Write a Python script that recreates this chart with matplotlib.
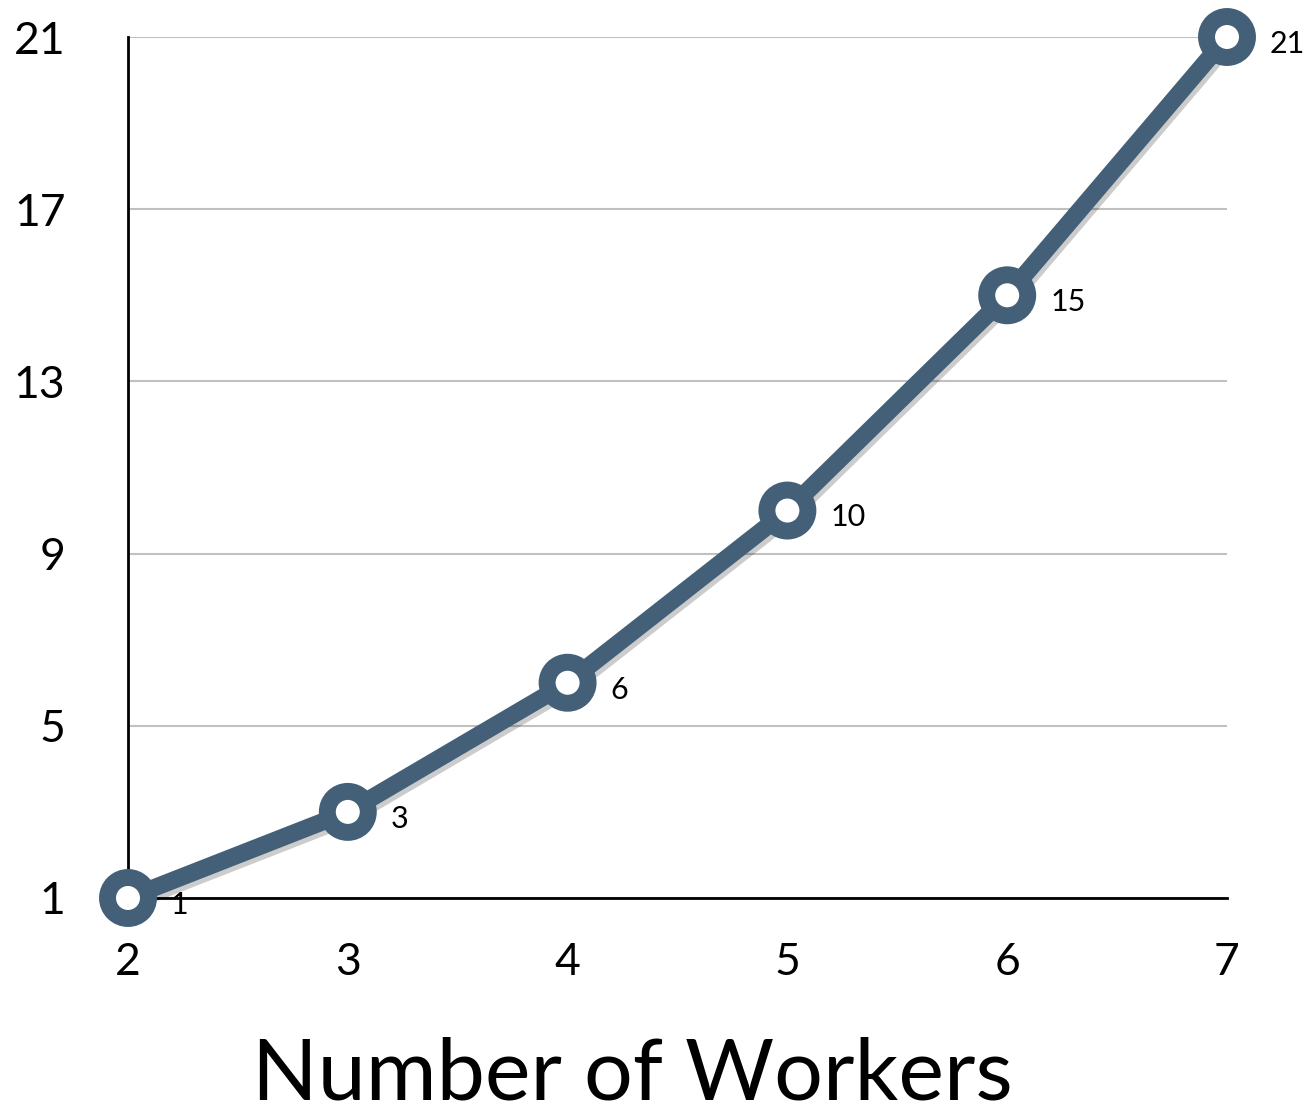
import numpy as np
import matplotlib
matplotlib.use('Agg')
import matplotlib.pyplot as plt
import matplotlib.patheffects as pe

# data
workers = [2, 3, 4, 5, 6, 7]
values = [1, 3, 6, 10, 15, 21]
y_ticks = [1, 5, 9, 13, 17, 21]
x_label = 'Number of Workers'

LINE = '#436078'
plt.rcParams['font.family'] = ['Lato', 'DejaVu Sans']

W, H = 1307, 1113
fig = plt.figure(figsize=(W / 100, H / 100), dpi=100)
ax = fig.add_axes([128 / W, 1 - 898 / H, (1227 - 128) / W, (898 - 37) / H])

line_shadow = [pe.SimpleLineShadow(offset=(2, -3), shadow_color='k', alpha=0.2), pe.Normal()]
mark_shadow = [pe.SimplePatchShadow(offset=(2, -3), shadow_rgbFace='k', alpha=0.2), pe.Normal()]
ax.plot(workers, values, '-', color=LINE, linewidth=12.5, solid_capstyle='round',
        zorder=3, path_effects=line_shadow, clip_on=False)
ax.plot(workers, values, 'o', color='white', markersize=29.5, markeredgewidth=12.2,
        markeredgecolor=LINE, zorder=4, path_effects=mark_shadow, clip_on=False)

for x, y in zip(workers, values):
    ax.annotate(str(y), (x, y), xytext=(31, -5), textcoords='offset points',
                ha='left', va='center', fontsize=22, zorder=5)

ax.set_xlim(2, 7)
ax.set_ylim(1, 21)
ax.set_xticks(workers)
ax.set_yticks(y_ticks)
ax.tick_params(axis='both', length=0, labelsize=32)
ax.tick_params(axis='y', pad=45)
ax.tick_params(axis='x', pad=32)
ax.grid(axis='y', color='#c0c0c0', linewidth=1.5)
ax.set_axisbelow(True)
for s in ['top', 'right']:
    ax.spines[s].set_visible(False)
for s in ['left', 'bottom']:
    ax.spines[s].set_linewidth(2)
    ax.spines[s].set_color('black')
    ax.spines[s].set_zorder(2)

fig.text(632 / W, 1 - 1075 / H, x_label, ha='center', va='center', fontsize=62)

fig.savefig('out.png', dpi=100)
